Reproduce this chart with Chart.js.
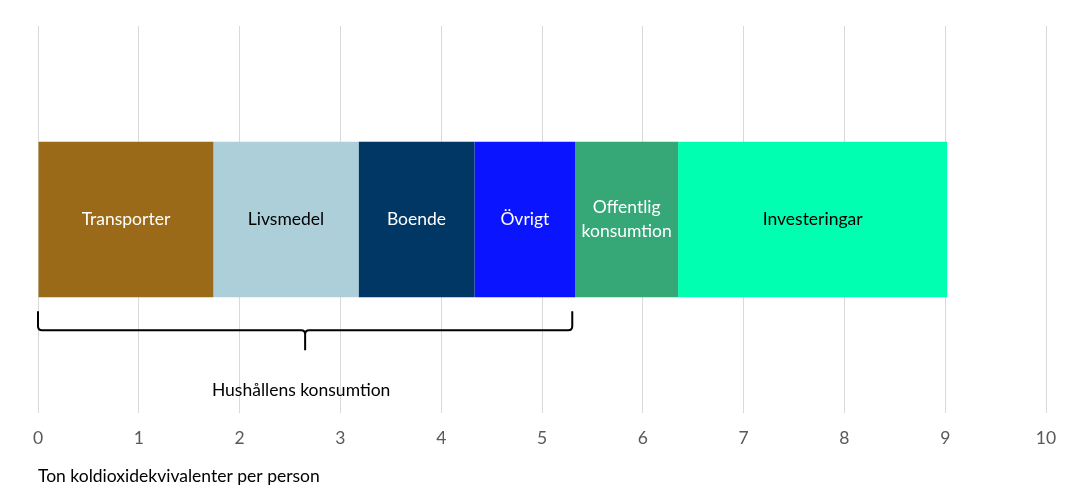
<!DOCTYPE html>
<html>
<head>
<meta charset="utf-8">
<script src="https://cdn.jsdelivr.net/npm/chart.js@4"></script>
<style>
html,body{margin:0;padding:0;background:#fff;}
#wrap{width:1084px;height:504px;}
</style>
</head>
<body>
<div id="wrap"><canvas id="c"></canvas></div>
<script>
const categories = [""];
const seriesNames = ["Transporter", "Livsmedel", "Boende", "Övrigt", "Offentlig konsumtion", "Investeringar"];
const seriesLabelLines = [["Transporter"], ["Livsmedel"], ["Boende"], ["Övrigt"], ["Offentlig", "konsumtion"], ["Investeringar"]];
const seriesValues = [1.74, 1.44, 1.15, 1.00, 1.02, 2.67];
const seriesColors = ["#9A6A18", "#ADCFDA", "#003764", "#0A14FF", "#36A776", "#00FFB0"];
const labelColors = ["#FFFFFF", "#000000", "#FFFFFF", "#FFFFFF", "#FFFFFF", "#000000"];
const xTicks = [0, 1, 2, 3, 4, 5, 6, 7, 8, 9, 10];
const braceText = "Hushållens konsumtion";
const braceSeriesCount = 4;
const axisTitle = "Ton koldioxidekvivalenter per person";
const FONT = "Lato, 'Open Sans', sans-serif";
const FS = 17.5;

const segLabels = {
  id: 'segLabels',
  afterDatasetsDraw(chart) {
    const ctx = chart.ctx;
    ctx.save();
    ctx.font = FS + "px " + FONT;
    ctx.textAlign = 'center';
    ctx.textBaseline = 'middle';
    chart.data.datasets.forEach((ds, i) => {
      const el = chart.getDatasetMeta(i).data[0];
      const cx = (el.x + el.base) / 2;
      const lines = seriesLabelLines[i];
      const lh = 24;
      ctx.fillStyle = labelColors[i];
      lines.forEach((ln, k) => {
        ctx.fillText(ln, cx, el.y + (k - (lines.length - 1) / 2) * lh);
      });
    });
    // brace
    const xs = chart.scales.x;
    let sum = 0;
    for (let i = 0; i < braceSeriesCount; i++) sum += seriesValues[i];
    const x0 = xs.getPixelForValue(0);
    const x1 = xs.getPixelForValue(sum) - 3;
    const xm = (x0 + x1) / 2;
    const el0 = chart.getDatasetMeta(0).data[0];
    const barBottom = el0.y + el0.height / 2;
    const yTop = barBottom + 14;
    const yLine = barBottom + 33;
    const yTip = barBottom + 53;
    const r = 4;
    ctx.strokeStyle = '#000';
    ctx.lineWidth = 2;
    ctx.beginPath();
    ctx.moveTo(x0, yTop);
    ctx.lineTo(x0, yLine - r);
    ctx.quadraticCurveTo(x0, yLine, x0 + r, yLine);
    ctx.lineTo(xm - r, yLine);
    ctx.quadraticCurveTo(xm, yLine, xm, yLine + r);
    ctx.lineTo(xm, yTip);
    ctx.moveTo(xm, yLine + r);
    ctx.quadraticCurveTo(xm, yLine, xm + r, yLine);
    ctx.lineTo(x1 - r, yLine);
    ctx.quadraticCurveTo(x1, yLine, x1, yLine - r);
    ctx.lineTo(x1, yTop);
    ctx.stroke();
    ctx.fillStyle = '#000';
    ctx.font = FS + "px " + FONT;
    ctx.fillText(braceText, xm - 4, barBottom + 93);
    ctx.restore();
  }
};

new Chart(document.getElementById('c'), {
  type: 'bar',
  data: {
    labels: categories,
    datasets: seriesNames.map((n, i) => ({
      label: n,
      data: [seriesValues[i]],
      backgroundColor: seriesColors[i],
      borderWidth: 0,
      barPercentage: 0.4016,
      categoryPercentage: 1.0
    }))
  },
  options: {
    indexAxis: 'y',
    responsive: true,
    maintainAspectRatio: false,
    animation: false,
    layout: { padding: { left: 38, right: 38, top: 26, bottom: 17 } },
    plugins: { legend: { display: false }, tooltip: { enabled: false } },
    scales: {
      x: {
        stacked: true,
        min: 0, max: 10,
        afterBuildTicks(axis) { axis.ticks = xTicks.map(v => ({ value: v })); },
        border: { display: false },
        grid: { color: '#D9D9D9', lineWidth: 1, drawTicks: false },
        ticks: { color: '#595959', font: { family: FONT, size: FS }, padding: 15 },
        title: { display: true, text: axisTitle, align: 'start', color: '#000', font: { family: FONT, size: FS }, padding: { top: 2, bottom: 0 } }
      },
      y: {
        stacked: true,
        display: false
      }
    }
  },
  plugins: [segLabels]
});
</script>
</body>
</html>
